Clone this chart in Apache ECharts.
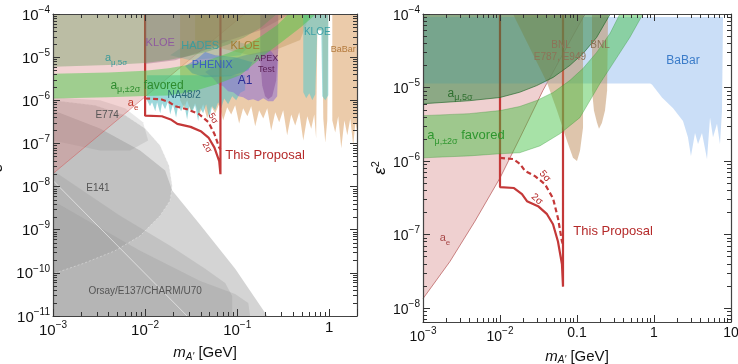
<!DOCTYPE html>
<html><head><meta charset="utf-8">
<script src="https://cdn.jsdelivr.net/npm/echarts/dist/echarts.min.js"></script>
<style>html,body{margin:0;padding:0;background:#fff}#c{width:738px;height:364px}</style>
</head><body><div id="c"></div>
<script>
// ===================== DATA (mass m_A' in GeV, epsilon^2) =====================
// tick labels
const ticksLeftX = [[1e-3,'{b|10}{e|−3}'],[1e-2,'{b|10}{e|−2}'],[1e-1,'{b|10}{e|−1}'],[1,'{b|1}']];
const ticksLeftY = [[1e-11,'{b|10}{e|−11}'],[1e-10,'{b|10}{e|−10}'],[1e-9,'{b|10}{e|−9}'],[1e-8,'{b|10}{e|−8}'],[1e-7,'{b|10}{e|−7}'],[1e-6,'{b|10}{e|−6}'],[1e-5,'{b|10}{e|−5}'],[1e-4,'{b|10}{e|−4}']];
const ticksRightX = [[1e-3,'{b|10}{e|−3}'],[1e-2,'{b|10}{e|−2}'],[0.1,'{b|0.1}'],[1,'{b|1}'],[10,'{b|10}']];
const ticksRightY = [[1e-8,'{b|10}{e|−8}'],[1e-7,'{b|10}{e|−7}'],[1e-6,'{b|10}{e|−6}'],[1e-5,'{b|10}{e|−5}'],[1e-4,'{b|10}{e|−4}']];
const minorMultipliers = [2,3,4,5,6,7,8,9];
const leftXDecades = [1e-3,1e-2,1e-1,1];
const leftYDecades = [1e-11,1e-10,1e-9,1e-8,1e-7,1e-6,1e-5];
const rightXDecades = [1e-3,1e-2,1e-1,1];
const rightYDecades = [1e-9,1e-8,1e-7,1e-6,1e-5];

// "This Proposal" (both panels)
const proposal2Sigma = [[0.01,1e-4],[0.01,4.4e-7],[0.0152,4.27e-7],[0.0193,3.53e-7],[0.0224,2.83e-7],[0.0312,2.42e-7],[0.0408,1.88e-7],[0.0488,1.37e-7],[0.0566,8.0e-8],[0.0638,3.9e-8],[0.0658,1.94e-8],[0.0658,1e-4]];
const proposal5Sigma = [[0.01,1.10e-6],[0.0148,1.06e-6],[0.0182,9.1e-7],[0.0211,7.3e-7],[0.0285,6.2e-7],[0.0384,4.8e-7],[0.0488,3.1e-7],[0.0566,1.66e-7],[0.0638,8.0e-8],[0.0658,7.3e-8]];

// muon g-2 curves (both panels)
const amu5SigmaEdge = [[0.001,6.0e-6],[0.004,6.6e-6],[0.01,7.3e-6],[0.018,8.6e-6],[0.03,1.06e-5],[0.049,1.37e-5],[0.081,2.0e-5],[0.12,2.9e-5],[0.18,4.8e-5],[0.27,1e-4]];
const amu2SigmaUpper = [[0.001,4.13e-6],[0.004,4.4e-6],[0.01,4.84e-6],[0.018,5.5e-6],[0.03,6.64e-6],[0.049,8.55e-6],[0.081,1.25e-5],[0.12,1.82e-5],[0.18,3.0e-5],[0.27,5.5e-5],[0.36,1e-4]];
const amu2SigmaLower = [[0.001,1.10e-6],[0.004,1.17e-6],[0.01,1.25e-6],[0.018,1.29e-6],[0.033,1.6e-6],[0.06,2.34e-6],[0.109,3.88e-6],[0.161,7.76e-6],[0.199,1.135e-5],[0.312,2.34e-5],[0.488,4.84e-5],[0.72,1e-4]];

// electron g-2 edges
const aeEdgeLeft = [[0.001,2.0e-8],[0.0105,1.31e-6],[0.12,1e-4]];
const aeEdgeRight = [[0.001,1.33e-8],[0.00224,4.27e-8],[0.00473,1.51e-7],[0.01,5.85e-7],[0.0182,2.07e-6],[0.0361,9.1e-6],[0.0698,3.2e-5],[0.127,1e-4]];

// left panel: beam dumps
const grayE137 = [[0.001,5.85e-7],[0.00324,2.23e-7],[0.00883,6.9e-8],[0.0165,2.36e-8],[0.0197,8.07e-9],[0.0396,1.31e-9],[0.0951,1.24e-10],[0.212,1e-11],[0.001,1e-11]];
const grayE141 = [[0.001,1e-6],[0.00286,7.65e-7],[0.00607,4.48e-7],[0.01,2.23e-7],[0.01456,8.98e-8],[0.0182,3.08e-8],[0.0197,1.05e-8],[0.0187,4.72e-9],[0.01456,2.12e-9],[0.00883,7.2e-10],[0.00472,3.25e-10],[0.00223,1.71e-10],[0.001,9.5e-11]];
const grayU70 = [[0.001,2.36e-8],[0.00535,2.12e-9],[0.0187,4.25e-10],[0.0449,1.24e-10],[0.0741,5.85e-11],[0.0883,2.92e-11],[0.0883,1e-11],[0.001,1e-11]];
const grayCharm = [[0.001,4.72e-9],[0.00883,3.25e-10],[0.0396,6.5e-11],[0.0951,3.25e-11],[0.132,2.0e-11],[0.138,1e-11],[0.001,1e-11]];
const grayE774 = [[0.001,1.17e-6],[0.00324,1.0e-6],[0.00607,6.5e-7],[0.0095,3.1e-7],[0.0108,1.17e-7],[0.00687,6.9e-8],[0.00324,6.9e-8],[0.001,1.17e-7]];
const grayOrsayEdge = [[0.001,1.38e-8],[0.0286,1e-11]];

// left panel: collider / fixed-target searches
const babarLeftA = [[0.024,1e-4],[0.024,1.0e-6],[0.0266,6.5e-7],[0.0286,1.0e-6],[0.0316,5.3e-7],[0.0349,8.5e-7],[0.0386,4.5e-7],[0.0427,8.1e-7],[0.0472,3.8e-7],[0.0522,7.3e-7],[0.0577,5.0e-7],[0.0637,8.1e-7],[0.0705,3.4e-7],[0.0778,6.9e-7],[0.0861,4.7e-7],[0.0951,7.7e-7],[0.105,2.9e-7],[0.116,6.5e-7],[0.129,4.25e-7],[0.142,7.3e-7],[0.157,2.5e-7],[0.173,5.9e-7],[0.192,3.8e-7],[0.212,6.5e-7],[0.234,2.0e-7],[0.259,5.3e-7],[0.286,3.1e-7],[0.316,5.9e-7],[0.349,1.54e-7],[0.386,4.7e-7],[0.427,2.6e-7],[0.472,5.3e-7],[0.522,1.17e-7],[0.577,4.25e-7],[0.637,2.2e-7],[0.687,4.7e-7],[0.72,1.3e-7],[0.741,4.2e-5],[0.84,4.2e-5],[0.861,3.8e-7],[0.905,1.05e-7],[0.951,3.4e-7],[0.976,1e-4]];
const babarLeftB = [[1.079,1e-4],[1.079,3.4e-7],[1.16,1.8e-7],[1.25,4.25e-7],[1.35,7.7e-8],[1.46,3.4e-7],[1.57,1.54e-7],[1.69,3.8e-7],[1.82,9.0e-8],[1.92,3.1e-7],[2.0,2.0e-7],[2.0,1e-4]];
const na48 = [[0.0105,3.8e-6],[0.0105,1.0e-6],[0.0113,7.3e-7],[0.0119,9.0e-7],[0.0129,5.6e-7],[0.0135,9.0e-7],[0.0146,5.0e-7],[0.0153,8.5e-7],[0.0165,6.2e-7],[0.0178,9.5e-7],[0.0187,4.7e-7],[0.0201,8.1e-7],[0.0217,4.0e-7],[0.0229,7.7e-7],[0.0246,5.6e-7],[0.0266,8.1e-7],[0.0286,3.6e-7],[0.0301,7.3e-7],[0.0324,5.3e-7],[0.0349,7.7e-7],[0.0377,3.3e-7],[0.0396,6.5e-7],[0.0427,5.0e-7],[0.046,8.1e-7],[0.0497,3.8e-7],[0.0535,7.3e-7],[0.0577,5.9e-7],[0.0621,9.0e-7],[0.067,6.5e-7],[0.0723,1.1e-6],[0.0798,8.1e-7],[0.0883,1.24e-6],[0.0976,1.0e-6],[0.108,1.5e-6],[0.122,1.7e-6],[0.122,3.8e-6]];
const a1 = [[0.0449,4.5e-6],[0.0548,3.25e-6],[0.0621,2.35e-6],[0.0705,2.12e-6],[0.0798,1.62e-6],[0.0905,1.54e-6],[0.103,1.24e-6],[0.116,1.17e-6],[0.132,1.0e-6],[0.149,1.05e-6],[0.169,9.5e-7],[0.192,1.11e-6],[0.217,9.5e-7],[0.246,9.5e-7],[0.272,1.24e-6],[0.279,8.5e-6],[0.228,1.46e-5],[0.122,1.11e-5],[0.0654,7.65e-6]];
const apexTest = [[0.178,1e-4],[0.178,8.5e-6],[0.187,2.2e-6],[0.201,1.24e-6],[0.217,1.05e-6],[0.24,1.24e-6],[0.265,2.9e-6],[0.279,1.46e-5],[0.279,1e-4]];
const phenix = [[0.0272,6.2e-6],[0.0377,9.5e-6],[0.0449,1.31e-5],[0.0577,1.11e-5],[0.0951,1.0e-5],[0.146,7.6e-6],[0.132,5.0e-6],[0.084,3.6e-6],[0.0449,3.4e-6],[0.0324,4.25e-6]];
const hades = [[0.0187,1.11e-5],[0.0272,1.9e-5],[0.0449,2.5e-5],[0.084,2.5e-5],[0.138,1.9e-5],[0.108,1.11e-5],[0.0577,9.5e-6],[0.0308,8.5e-6]];
const kloePhiEta = [[0.01,1e-4],[0.01,6.9e-6],[0.0212,8.5e-6],[0.0396,1.31e-5],[0.084,2.5e-5],[0.178,4.2e-5],[0.377,1e-4]];
const kloeGamma = [[0.0349,1e-4],[0.0349,2.5e-5],[0.0654,1.62e-5],[0.138,1.11e-5],[0.259,1.46e-5],[0.484,2.5e-5],[0.621,1e-4]];
const kloeMuMu = [[0.522,1e-4],[0.522,1.54e-6],[0.562,1.11e-6],[0.607,1.46e-6],[0.654,1.0e-6],[0.704,1.38e-6],[0.741,4.2e-5],[0.819,4.2e-5],[0.84,1.24e-6],[0.905,1.0e-6],[0.976,1.31e-6],[0.976,1e-4]];

// right panel
const babarRight = [[0.001,9.1e-5],[0.001,1.13e-5],[0.89,1.13e-5],[0.94,1.1e-5],[1.27,7.3e-6],[1.77,5.2e-6],[2.38,3.5e-6],[2.76,2.1e-6],[3.02,1.17e-6],[3.41,2.4e-6],[3.73,1.7e-6],[4.2,2.4e-6],[4.88,1.06e-6],[5.34,3.9e-6],[5.84,2.1e-6],[6.58,3.2e-6],[7.19,1.7e-6],[7.64,4.8e-6],[7.87,9.1e-5]];
const bnlTriangle = [[0.01475,1e-4],[0.1094,1e-4],[0.0407,1.17e-5]];
const bnlFinger1 = [[0.1094,1e-4],[0.0407,1.17e-5],[0.055,4.84e-6],[0.0741,1.88e-6],[0.0887,1.1e-6],[0.1,1.0e-6],[0.1094,1.37e-6],[0.1197,2.83e-6],[0.1197,6.6e-6],[0.1197,1e-4]];
const bnlFinger2 = [[0.1567,1e-4],[0.1567,9.1e-6],[0.166,4.84e-6],[0.182,3.3e-6],[0.193,2.74e-6],[0.211,3.3e-6],[0.231,4.84e-6],[0.246,9.1e-6],[0.253,1e-4]];

// ===================== LAYOUT / STYLE =====================
const FONT = '"Liberation Sans", Arial, Helvetica, sans-serif';
const RED = '#c43838';
let zc = 10;
function poly(pts, xi, fill, stroke, lw, dash) {
  return { type:'custom', xAxisIndex:xi, yAxisIndex:xi, data: pts, clip:true, silent:true, z: zc++, animation:false,
    renderItem: function (params, api) {
      if (params.dataIndex !== 0) return null;
      return { type:'polygon', shape:{ points: pts.map(function (p) { return api.coord(p); }) },
        style:{ fill: fill, stroke: stroke || 'none', lineWidth: lw || 0, lineDash: dash || null } };
    } };
}
function line(pts, xi, color, width, type) {
  return { type:'line', xAxisIndex:xi, yAxisIndex:xi, data: pts, showSymbol:false, symbol:'none', silent:true, clip:true,
    z: zc++, animation:false, lineStyle:{ color: color, width: width, type: type || 'solid' } };
}
function labels(list, xi) {
  return { type:'custom', xAxisIndex:xi, yAxisIndex:xi, data:[list[0].at], silent:true, clip:false, z:300, animation:false,
    renderItem: function (params, api) {
      if (params.dataIndex !== 0) return null;
      return { type:'group', children: list.map(function (l) {
        const p = api.coord(l.at);
        return { type:'text', x:p[0], y:p[1], rotation:(l.rot || 0) * Math.PI / 180,
          style:{ text:l.t, fill:l.c, fontSize:l.s, fontFamily:FONT, align:'center', verticalAlign:'middle',
            rich:{ a:{ fill:l.c, fontSize:l.s, fontFamily:FONT, lineHeight:Math.round(l.s * 1.5) },
                   s:{ fill:l.c, fontSize:Math.round(l.s * 0.72), fontFamily:FONT, verticalAlign:'bottom' } } } };
      }) };
    } };
}
function expand(decades, lo, hi) {
  const out = [];
  decades.forEach(function (d) { minorMultipliers.forEach(function (k) { const v = k * d; if (v > lo && v < hi) out.push(v); }); });
  return out;
}
function minorTicks(xi, xs, ys, refX, refY) {
  return { type:'custom', xAxisIndex:xi, yAxisIndex:xi, data:[[refX, refY]], silent:true, clip:false, z:250, animation:false,
    renderItem: function (params, api) {
      const cs = params.coordSys, L = 4, ch = [], st = { stroke:'#333', lineWidth:1 };
      xs.forEach(function (v) {
        const x = Math.round(api.coord([v, refY])[0]) + 0.5;
        ch.push({ type:'line', shape:{ x1:x, y1:cs.y + cs.height, x2:x, y2:cs.y + cs.height - L }, style:st });
        ch.push({ type:'line', shape:{ x1:x, y1:cs.y, x2:x, y2:cs.y + L }, style:st });
      });
      ys.forEach(function (v) {
        const y = Math.round(api.coord([refX, v])[1]) + 0.5;
        ch.push({ type:'line', shape:{ x1:cs.x, y1:y, x2:cs.x + L, y2:y }, style:st });
        ch.push({ type:'line', shape:{ x1:cs.x + cs.width, y1:y, x2:cs.x + cs.width - L, y2:y }, style:st });
      });
      return { type:'group', children: ch };
    } };
}
function fmt(ticks) {
  return function (v) {
    for (let i = 0; i < ticks.length; i++) if (Math.abs(Math.log10(v) - Math.log10(ticks[i][0])) < 1e-6) return ticks[i][1];
    return '';
  };
}
function rich(size) {
  return { b:{ fontSize:size, fontFamily:FONT, color:'#111', verticalAlign:'bottom' },
           e:{ fontSize:Math.round(size * 0.68), fontFamily:FONT, color:'#111', verticalAlign:'top', padding:[0,0,8,0] } };
}
const axisLine = { show:true, onZero:false, lineStyle:{ color:'#444', width:1.2 } };
const majorTick = { show:true, inside:true, length:7, lineStyle:{ color:'#333', width:1 } };
function xAx(grid, min, max, pos, ticks, size, name, gap) {
  return { gridIndex:grid, type:'log', logBase:10, min:min, max:max, position:pos, z:100,
    axisLine:axisLine, axisTick:majorTick, minorTick:{ show:false }, splitLine:{ show:false },
    axisLabel: ticks ? { show:true, formatter:fmt(ticks), rich:rich(size), margin:4, fontSize:size, fontFamily:FONT, color:'#111' } : { show:false },
    name: name || '', nameLocation:'middle', nameGap:gap || 0,
    nameTextStyle:{ fontFamily:FONT, fontSize:15, color:'#111',
      rich:{ i:{ fontStyle:'italic', fontSize:15, fontFamily:FONT, color:'#111', lineHeight:18 },
             s:{ fontStyle:'italic', fontSize:10, fontFamily:FONT, color:'#111', verticalAlign:'bottom' },
             r:{ fontSize:15, fontFamily:FONT, color:'#111', lineHeight:18 } } } };
}
function yAx(grid, min, max, pos, ticks, size, gap) {
  return { gridIndex:grid, type:'log', logBase:10, min:min, max:max, position:pos, z:100,
    axisLine:axisLine, axisTick:majorTick, minorTick:{ show:false }, splitLine:{ show:false },
    axisLabel: ticks ? { show:true, formatter:fmt(ticks), rich:rich(size), margin:3, fontSize:size, fontFamily:FONT, color:'#111' } : { show:false },
    name: ticks ? '{i|ε}{e|2}' : '', nameLocation:'middle', nameGap:gap || 0,
    nameTextStyle:{ fontFamily:FONT, fontSize:16, color:'#111',
      rich:{ i:{ fontSize:17, fontFamily:FONT, color:'#111', fontStyle:'italic', verticalAlign:'bottom' },
             e:{ fontSize:11, fontFamily:FONT, color:'#111', verticalAlign:'top', padding:[0,0,8,0] } } } };
}
const XNAME = "{i|m}{s|A'}{r| [GeV]}";

const leftLabels = [
  { t:'KLOE', at:[0.0146,2.1e-5], c:'#8e5a9e', s:11 },
  { t:'HADES', at:[0.0396,1.8e-5], c:'#3d9c9c', s:11 },
  { t:'KLOE', at:[0.122,1.8e-5], c:'#a27b2e', s:11 },
  { t:'PHENIX', at:[0.0535,6.5e-6], c:'#3a5fc0', s:11 },
  { t:'APEX', at:[0.207,9.5e-6], c:'#5a1f55', s:9 },
  { t:'Test', at:[0.207,5.3e-6], c:'#5a1f55', s:9 },
  { t:'A1', at:[0.122,2.9e-6], c:'#2b2b95', s:12 },
  { t:'NA48/2', at:[0.0266,1.3e-6], c:'#2a6878', s:10 },
  { t:'KLOE', at:[0.74,3.8e-5], c:'#3a9fa5', s:10 },
  { t:'BaBar', at:[1.42,1.53e-5], c:'#b47a3c', s:9 },
  { t:'{a|a}{s|μ,5σ}', at:[0.00484,9.5e-6], c:'#3a9a9a', s:11 },
  { t:'{a|a}{s|μ,±2σ}{a| favored}', at:[0.0105,2.23e-6], c:'#2e8b2e', s:12 },
  { t:'{a|a}{s|e}', at:[0.0074,8.5e-7], c:'#c0392b', s:11 },
  { t:'E774', at:[0.00387,4.5e-7], c:'#555', s:10 },
  { t:'E141', at:[0.00308,9e-9], c:'#555', s:10 },
  { t:'Orsay/E137/CHARM/U70', at:[0.01,3.8e-11], c:'#555', s:10 },
  { t:'This Proposal', at:[0.201,5.3e-8], c:'#b52a2a', s:13 },
  { t:'5σ', at:[0.0548,3.8e-7], c:'#b52a2a', s:9, rot:-60 },
  { t:'2σ', at:[0.0472,8.1e-8], c:'#b52a2a', s:9, rot:-60 }
];
const rightLabels = [
  { t:'{a|a}{s|μ,5σ}', at:[0.00303,8.3e-6], c:'#2f6f2f', s:12 },
  { t:'{a|a}{s|μ,±2σ}{a| favored}', at:[0.00361,2.2e-6], c:'#2e962e', s:13 },
  { t:'{a|a}{s|e}', at:[0.00193,8.8e-8], c:'#a84848', s:11 },
  { t:'BNL', at:[0.0619,3.76e-5], c:'#8d7358', s:10 },
  { t:'E787, E949', at:[0.06,2.58e-5], c:'#8d7358', s:10 },
  { t:'BNL', at:[0.199,3.76e-5], c:'#8d7358', s:10 },
  { t:'BaBar', at:[2.38,2.34e-5], c:'#3b7cc9', s:12 },
  { t:'This Proposal', at:[0.294,1.1e-7], c:'#b52a2a', s:13 },
  { t:'5σ', at:[0.0384,6.2e-7], c:'#b52a2a', s:10, rot:-50 },
  { t:'2σ', at:[0.0303,3.0e-7], c:'#b52a2a', s:10, rot:-40 }
];

const band = amu2SigmaUpper.concat(amu2SigmaLower.slice().reverse());
const series = [];
// ---- left panel (axis index 0) ----
series.push(poly(grayE137, 0, 'rgba(130,130,130,0.34)'));
series.push(poly(grayU70, 0, 'rgba(130,130,130,0.22)'));
series.push(poly(grayCharm, 0, 'rgba(130,130,130,0.2)'));
series.push(poly(grayE141, 0, 'rgba(150,150,150,0.3)', 'rgba(255,255,255,0.45)', 0.8, [2,2]));
series.push(poly(grayE774, 0, 'rgba(130,130,130,0.18)'));
series.push(line(grayOrsayEdge, 0, 'rgba(255,255,255,0.55)', 1));
series.push(poly([[0.001,1e-4]].concat(aeEdgeLeft), 0, 'rgba(215,120,120,0.33)'));
series.push(line(aeEdgeLeft, 0, 'rgba(210,80,80,0.6)', 0.8));
series.push(poly(babarLeftA, 0, 'rgba(225,175,125,0.65)'));
series.push(poly(babarLeftB, 0, 'rgba(225,175,125,0.65)'));
series.push(poly(na48, 0, 'rgba(90,190,195,0.6)'));
series.push(poly(a1, 0, 'rgba(140,110,210,0.55)'));
series.push(line(proposal2Sigma, 0, RED, 2.2));
series.push(line(proposal5Sigma, 0, RED, 2.2, [5,3]));
series.push(poly(apexTest, 0, 'rgba(130,70,150,0.45)'));
series.push(poly(hades, 0, 'rgba(80,170,170,0.3)'));
series.push(poly(kloePhiEta, 0, 'rgba(140,90,120,0.35)'));
series.push(poly(kloeGamma, 0, 'rgba(180,140,80,0.35)'));
series.push(poly(phenix, 0, 'rgba(80,120,220,0.5)'));
series.push(poly(kloeMuMu, 0, 'rgba(100,200,200,0.6)'));
series.push(poly([[0.001,1e-4]].concat(amu5SigmaEdge), 0, 'rgba(90,150,80,0.36)'));
series.push(poly(band, 0, 'rgba(70,200,70,0.48)'));
series.push(minorTicks(0, expand(leftXDecades, 1e-3, 2), expand(leftYDecades, 1e-11, 1e-4), 0.01, 1e-6));
series.push(labels(leftLabels, 0));
// ---- right panel (axis index 2) ----
series.push(poly([[0.001,1e-4]].concat(aeEdgeRight), 2, 'rgba(210,120,120,0.35)'));
series.push(line(aeEdgeRight, 2, 'rgba(170,60,60,0.75)', 0.8));
series.push(poly(babarRight, 2, 'rgba(150,190,240,0.5)'));
series.push(line(proposal2Sigma, 2, RED, 2.2));
series.push(line(proposal5Sigma, 2, RED, 2.2, [5,3]));
series.push(poly(bnlTriangle, 2, 'rgba(190,140,90,0.5)'));
series.push(poly(bnlFinger1, 2, 'rgba(190,140,90,0.5)'));
series.push(poly(bnlFinger2, 2, 'rgba(190,140,90,0.5)'));
series.push(poly([[0.001,1e-4]].concat(amu5SigmaEdge), 2, 'rgba(50,135,65,0.52)'));
series.push(line(amu5SigmaEdge, 2, 'rgba(30,100,40,0.8)', 0.8));
series.push(poly(band, 2, 'rgba(60,190,60,0.45)'));
series.push(line(amu2SigmaUpper, 2, 'rgba(40,140,40,0.5)', 0.6));
series.push(line(amu2SigmaLower, 2, 'rgba(40,140,40,0.5)', 0.6));
series.push(minorTicks(2, expand(rightXDecades, 1e-3, 10), expand(rightYDecades, 6.4e-9, 1e-4), 0.01, 1e-6));
series.push(labels(rightLabels, 2));

const chart = echarts.init(document.getElementById('c'), null, { renderer:'canvas', width:738, height:364 });
chart.setOption({
  animation:false,
  backgroundColor:'#ffffff',
  grid:[ { left:53, top:14, width:304, height:302, containLabel:false, outerBoundsMode:'none' },
         { left:423, top:14, width:308, height:308, containLabel:false, outerBoundsMode:'none' } ],
  xAxis:[
    xAx(0, 1e-3, 2, 'bottom', ticksLeftX, 15, XNAME, 28),
    xAx(0, 1e-3, 2, 'top', null, 15),
    xAx(1, 1e-3, 10, 'bottom', ticksRightX, 14, XNAME, 22),
    xAx(1, 1e-3, 10, 'top', null, 14)
  ],
  yAxis:[
    yAx(0, 1e-11, 1e-4, 'left', ticksLeftY, 15, 47),
    yAx(0, 1e-11, 1e-4, 'right', null, 15),
    yAx(1, 6.4e-9, 1e-4, 'left', ticksRightY, 14, 27),
    yAx(1, 6.4e-9, 1e-4, 'right', null, 14)
  ],
  series: series
});
</script>
</body></html>
